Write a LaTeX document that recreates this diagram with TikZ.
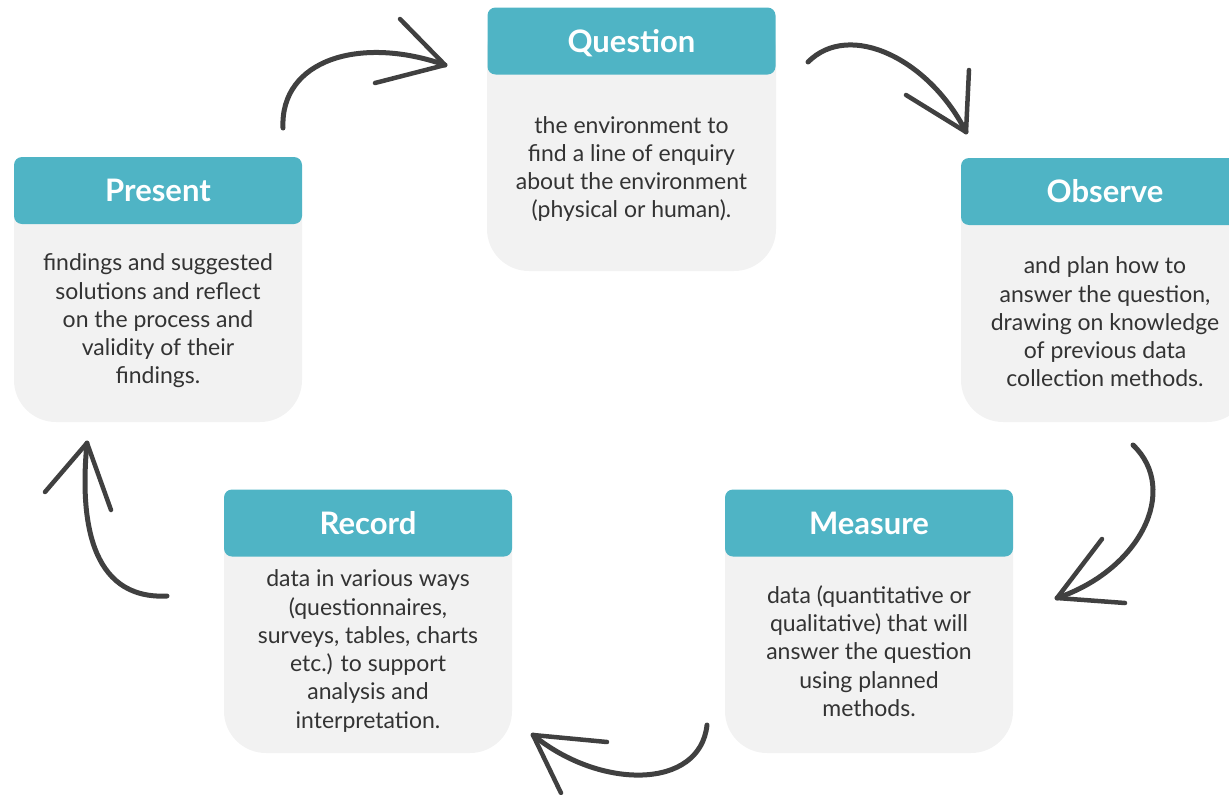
\documentclass[tikz,border=0pt]{standalone}
\usepackage{fontspec}
\setmainfont{Lato}
\definecolor{hdr}{HTML}{4FB4C5}
\definecolor{bodyfill}{HTML}{F2F2F2}
\definecolor{txt}{HTML}{333333}
\definecolor{arr}{HTML}{404040}
\tikzset{
  header/.style={fill=hdr, rounded corners=8pt, text=white, inner sep=0pt,
    minimum width=288pt, minimum height=67pt, text height=22pt, text depth=0pt,
    font=\fontsize{31}{36}\selectfont\bfseries},
  bodybox/.style={fill=bodyfill, rounded corners=42pt},
  bodytext/.style={align=center, text=txt, inner sep=0pt,
    font=\fontsize{23}{28.3}\selectfont},
  cyc/.style={draw=arr, line width=5pt, line cap=round},
  headline/.style={draw=arr, line width=4.5pt, line cap=round, line join=round}
}
\begin{document}
\begin{tikzpicture}[x=1pt,y=-1pt]
\useasboundingbox (0,0) rectangle (1229,795);
% Question
\fill[bodybox] (487,8) rectangle (776,271);
\node[header] (qh) at (631.5,41) {Question};
\node[bodytext] (qb) at (631.5,169) {the environment to\\find a line of enquiry\\about the environment\\(physical or human).};
% Present
\fill[bodybox] (14,157) rectangle (302,422);
\node[header] (ph) at (158,190.5) {Present};
\node[bodytext] (pb) at (158,321) {findings and suggested\\solutions and reflect\\on the process and\\validity of their\\findings.};
% Observe
\fill[bodybox] (961,158) rectangle (1249,422);
\node[header] (oh) at (1105,191.5) {Observe};
\node[bodytext] (ob) at (1105,322) {and plan how to\\answer the question,\\drawing on knowledge\\of previous data\\collection methods.};
% Record
\fill[bodybox] (224,490) rectangle (512,753);
\node[header] (rh) at (368,523) {Record};
\node[bodytext] (rb) at (368,651) {data in various ways\\(questionnaires,\\surveys, tables, charts\\etc.) to support\\analysis and\\interpretation.};
% Measure
\fill[bodybox] (725,490) rectangle (1013,753);
\node[header] (mh) at (869,523) {Measure};
\node[bodytext] (mb) at (869,651) {data (quantitative or\\qualitative) that will\\answer the question\\using planned\\methods.};
% arrow ends
\coordinate (a1s) at (283,128); \coordinate (a1t) at (445,65);
\coordinate (a1u) at (400,19);  \coordinate (a1l) at (375,83);
\coordinate (a2s) at (808,62);  \coordinate (a2t) at (966,132);
\coordinate (a2u) at (969,70);  \coordinate (a2l) at (906,95);
\coordinate (a3s) at (1133,445); \coordinate (a3t) at (1057,598);
\coordinate (a3u) at (1102,539); \coordinate (a3l) at (1125,603);
\coordinate (a4s) at (707,725); \coordinate (a4t) at (533,735);
\coordinate (a4u) at (607,742); \coordinate (a4l) at (561,793);
\coordinate (a5s) at (167,596); \coordinate (a5t) at (87,443);
\coordinate (a5u) at (45,492);  \coordinate (a5l) at (111,510);
% arrows
\draw[cyc] (a1s) .. controls (280,60) and (360,35) .. (a1t);
\draw[headline] (a1u) -- (a1t) -- (a1l);
\draw[cyc] (a2s) .. controls (850,20) and (930,60) .. (a2t);
\draw[headline] (a2u) -- (a2t) -- (a2l);
\draw[cyc] (a3s) .. controls (1180,490) and (1140,570) .. (a3t);
\draw[headline] (a3u) -- (a3t) -- (a3l);
\draw[cyc] (a4s) .. controls (700,790) and (600,790) .. (a4t);
\draw[headline] (a4u) -- (a4t) -- (a4l);
\draw[cyc] (a5s) .. controls (88,600) and (80,515) .. (a5t);
\draw[headline] (a5u) -- (a5t) -- (a5l);
\end{tikzpicture}
\end{document}
